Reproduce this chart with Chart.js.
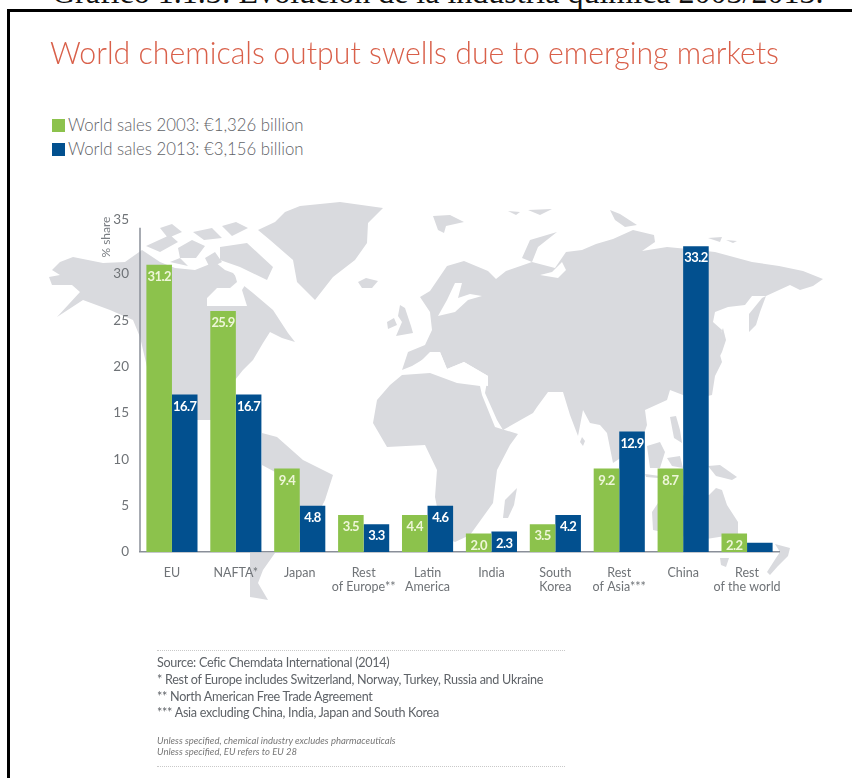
<!DOCTYPE html>
<html>
<head>
<meta charset="utf-8">
<title>World chemicals output</title>
<script src="https://cdn.jsdelivr.net/npm/chart.js@4"></script>
<style>
    html, body { margin: 0; padding: 0; background: #fff; }
    body { position: relative; width: 852px; height: 778px; overflow: hidden; font-family: Lato, sans-serif; }
    #heading { position: absolute; left: 52px; top: -26px; font: 32px "Liberation Serif", serif; color: #111; white-space: nowrap; }
    #frame { position: absolute; left: 7px; top: 9px; width: 900px; height: 900px; border: 3px solid #000; }
    #map { position: absolute; left: 0; top: 0; filter: blur(0.5px); }
    #chartBox { position: absolute; left: 0; top: 0; width: 852px; height: 778px; }
    #legend { position: absolute; left: 52px; top: 115px; color: #5f6368; font-size: 16.8px; font-weight: 300; }
    #legend div { height: 23.5px; line-height: 19px; white-space: nowrap; }
    #legend i { display: inline-block; width: 13px; height: 13px; margin-right: 3px; vertical-align: -1px; }
    #notes { position: absolute; left: 157px; top: 650px; width: 408px; border-top: 1px dotted #c9c9c9; border-bottom: 1px dotted #c9c9c9; color: #5f6368; font-size: 12.6px; letter-spacing: -0.29px; height: 115px; }
    #notes p { margin: 0; height: 16.8px; line-height: 16.8px; white-space: nowrap; }
    #notes .small { font-size: 9.5px; font-style: italic; letter-spacing: 0; height: 11px; line-height: 11px; color: #777; }
</style>
</head>
<body>
<div id="heading">Gráfico 1.1.3: Evolución de la industria química 2003/2013.</div>
<div id="frame"></div>

<!-- world map backdrop, only a decoration behind the bars -->
<svg id="map" width="852" height="778" fill="#d9dade">
    <path d="M52,270 L60,262 73,257 103,263 125,262 142,250 160,262 175,268 195,270 215,262 225,270 233,273 243,285 253,293 273,310 288,333 295,342 282,338 270,332 263,343 253,360 243,370 227,390 225,400 215,420 170,420 147,367 140,337 133,320 110,310 83,300 57,317 80,292 72,285 52,285 49,277 60,275 Z"/>
    <path d="M207,306 L207,298 217,288 230,288 237,282 233,268 243,272 247,282 242,290 247,306 Z" fill="#fff"/>
    <path d="M220,247 L247,243 273,267 267,280 240,267 220,260 Z"/>
    <path d="M146,246 L170,235 178,242 160,252 Z M160,228 L172,224 182,232 168,238 Z M178,248 L192,240 205,246 196,258 180,258 Z M193,232 L212,228 222,238 204,240 Z M205,258 L215,252 222,262 210,268 Z M170,262 L180,258 188,266 Z M222,226 L236,222 248,228 232,236 Z"/>
    <path d="M258,230 L275,222 285,212 300,206 340,202 383,208 368,223 367,243 355,260 333,277 315,300 297,282 293,260 270,240 Z"/>
    <path d="M358,282 L366,278 378,281 372,288 362,288 Z"/>
    <path d="M400,305 L405,308 411,326 413,333 396,336 402,322 398,316 Z M387,322 L394,318 397,325 388,329 Z"/>
    <path d="M420,297 L430,291 447,266 464,261 488,271 496,279 506,271 532,262 555,268 566,252 582,250 596,244 613,239 633,230 654,235 655,242 642,251 667,247 688,249 715,252 752,262 779,266 803,271 823,279 813,286 800,290 790,285 766,296 752,296 745,305 728,307 715,312 713,322 722,330 718,348 722,362 715,376 712,395 690,400 683,395 670,390 667,400 645,410 647,425 640,445 613,463 607,433 600,425 590,423 583,410 578,436 570,415 563,392 548,392 537,407 533,413 503,430 497,420 485,393 488,376 464,362 447,369 440,352 432,354 412,366 402,370 408,352 425,345 432,330 430,312 Z"/>
    <path d="M462,283 L455,283 447,300 438,316 455,312 468,300 482,296 470,294 458,298 Z M540,275 L552,272 562,262 566,270 558,278 Z M430,352 L440,352 447,369 464,362 488,376 488,386 457,383 430,373 412,370 Z" fill="#fff"/>
    <path d="M377,400 L390,385 402,375 430,373 457,383 480,386 482,395 495,427 518,434 510,445 497,470 493,503 470,535 455,542 443,537 435,497 437,470 425,445 387,447 373,423 Z"/>
    <path d="M503,518 L505,500 517,488 514,505 508,518 Z"/>
    <path d="M262,433 L277,437 303,460 333,475 325,500 315,520 276,552 275,472 262,465 Z"/>
    <path d="M250,553 L275,553 263,570 258,583 268,600 250,597 Z"/>
    <path d="M582,437 L585,441 583,446 580,442 Z"/>
    <path d="M647,446 L660,442 665,452 660,468 650,468 Z M670,417 L676,416 680,430 682,443 674,438 Z M667,458 L680,456 683,468 672,466 Z M645,474 L660,476 658,478 646,477 Z"/>
    <path d="M708,466 L720,465 737,477 732,480 716,476 Z"/>
    <path d="M653,530 L652,512 660,500 700,492 709,495 716,488 722,490 727,505 738,522 738,534 700,540 Z"/>
    <path d="M720,558 L729,558 726,567 721,565 Z"/>
    <path d="M775,544 L790,548 788,556 778,566 770,575 767,572 776,558 780,552 Z"/>
    <path d="M433,216 L450,215 464,222 446,226 444,233 438,230 Z M508,211 L520,212 516,215 Z M528,210 L552,209 540,215 Z M610,210 L620,214 637,225 625,227 615,220 Z M708,238 L722,237 720,242 Z M726,240 L737,241 733,243 Z"/>
    <path d="M522,258 L530,240 557,232 538,247 532,262 Z"/>
    <path d="M749,332 L749,314 762,298 766,296 760,312 756,325 Z M723,328 L726,340 722,352 718,360 716,345 Z"/>
</svg>

<div id="legend"></div>
<div id="chartBox"><canvas id="chart"></canvas></div>
<div id="notes"></div>

<script>
const chartTitle = 'World chemicals output swells due to emerging markets';
const categories = ['EU', 'NAFTA*', 'Japan', ['Rest', 'of Europe**'], ['Latin', 'America'], 'India', ['South', 'Korea'], ['Rest', 'of Asia***'], 'China', ['Rest', 'of the world']];
const seriesNames = ['World sales 2003: €1,326 billion', 'World sales 2013: €3,156 billion'];
const seriesColors = ['#8cc24c', '#02508f'];

// bar heights as drawn in the picture, the printed labels differ from them
const values2003 = [31, 26, 9, 4, 4, 2, 3, 9, 9, 2];
const values2013 = [17, 17, 5, 3, 5, 2.2, 4, 13, 33, 1];
const labels2003 = ['31.2', '25.9', '9.4', '3.5', '4.4', '2.0', '3.5', '9.2', '8.7', '2.2'];
const labels2013 = ['16.7', '16.7', '4.8', '3.3', '4.6', '2.3', '4.2', '12.9', '33.2', ''];

const yTicks = [0, 5, 10, 15, 20, 25, 30, 35];
const notes = [
    'Source: Cefic Chemdata International (2014)',
    '* Rest of Europe includes Switzerland, Norway, Turkey, Russia and Ukraine',
    '** North American Free Trade Agreement',
    '*** Asia excluding China, India, Japan and South Korea'
];
const smallNotes = [
    'Unless specified, chemical industry excludes pharmaceuticals',
    'Unless specified, EU refers to EU 28'
];

document.getElementById('legend').innerHTML = seriesNames
    .map((name, i) => `<div><i style="background:${seriesColors[i]}"></i>${name}</div>`).join('');
document.getElementById('notes').innerHTML =
    '<div style="height:4px"></div>' + notes.map(n => `<p>${n}</p>`).join('') +
    '<div style="height:13px"></div>' + smallNotes.map(n => `<p class="small">${n}</p>`).join('');

// printed value inside the top of each bar, and the y axis line up to the 35 tick
const barLabels = {
    id: 'barLabels',
    afterDatasetsDraw(chart) {
        const ctx = chart.ctx;
        const y = chart.scales.y;
        ctx.save();
        ctx.strokeStyle = '#8a8f99';
        ctx.lineWidth = 1.5;
        ctx.beginPath();
        ctx.moveTo(y.right, y.getPixelForValue(35));
        ctx.lineTo(y.right, y.getPixelForValue(0));
        ctx.stroke();
        ctx.font = 'bold 13px Lato';
        ctx.letterSpacing = '-0.6px';
        ctx.textAlign = 'center';
        ctx.textBaseline = 'middle';
        [labels2003, labels2013].forEach((labels, d) => {
            ctx.fillStyle = d === 0 ? '#eef6d8' : '#ffffff';
            chart.getDatasetMeta(d).data.forEach((bar, i) => {
                ctx.fillText(labels[i], bar.x, bar.y + 12);
            });
        });
        ctx.restore();
    }
};

new Chart(document.getElementById('chart'), {
    type: 'bar',
    data: {
        labels: categories,
        datasets: [
            { label: seriesNames[0], data: values2003, backgroundColor: seriesColors[0] },
            { label: seriesNames[1], data: values2013, backgroundColor: seriesColors[1] }
        ]
    },
    options: {
        responsive: true,
        maintainAspectRatio: false,
        animation: false,
        layout: { padding: { left: 50, right: 73, top: 35, bottom: 176 } },
        datasets: { bar: { categoryPercentage: 0.8, barPercentage: 1 } },
        plugins: {
            legend: { display: false },
            tooltip: { enabled: false },
            title: {
                display: true,
                text: chartTitle,
                align: 'start',
                color: '#d9604a',
                font: { family: 'Lato', size: 31.3, weight: '300' },
                padding: { top: 0, bottom: 144 }
            }
        },
        scales: {
            x: {
                grid: { display: false },
                border: { color: '#8a8f99', width: 1.5 },
                ticks: {
                    color: '#6f7377',
                    font: { family: 'Lato', size: 12.5, lineHeight: 1.12 },
                    padding: 6,
                    maxRotation: 0,
                    autoSkip: false
                },
                afterFit(scale) { scale.height = 50; }
            },
            y: {
                min: 0,
                max: 36.2,
                grid: { display: false },
                border: { display: false },
                title: {
                    display: true,
                    text: '% share',
                    align: 'end',
                    color: '#7a7e83',
                    font: { family: 'Lato', size: 12 },
                    padding: { top: 49, bottom: 0 }
                },
                ticks: {
                    color: '#6f7377',
                    font: { family: 'Lato', size: 13.5 },
                    padding: 3,
                    autoSkip: false,
                    // blank second line lifts the 35 label above its tick, as in the picture
                    callback: v => v === 35 ? ['35', ''] : String(v)
                },
                afterBuildTicks(scale) { scale.ticks = yTicks.map(v => ({ value: v })); },
                afterFit(scale) { scale.width = 90; }
            }
        }
    },
    plugins: [barLabels]
});
</script>
</body>
</html>
